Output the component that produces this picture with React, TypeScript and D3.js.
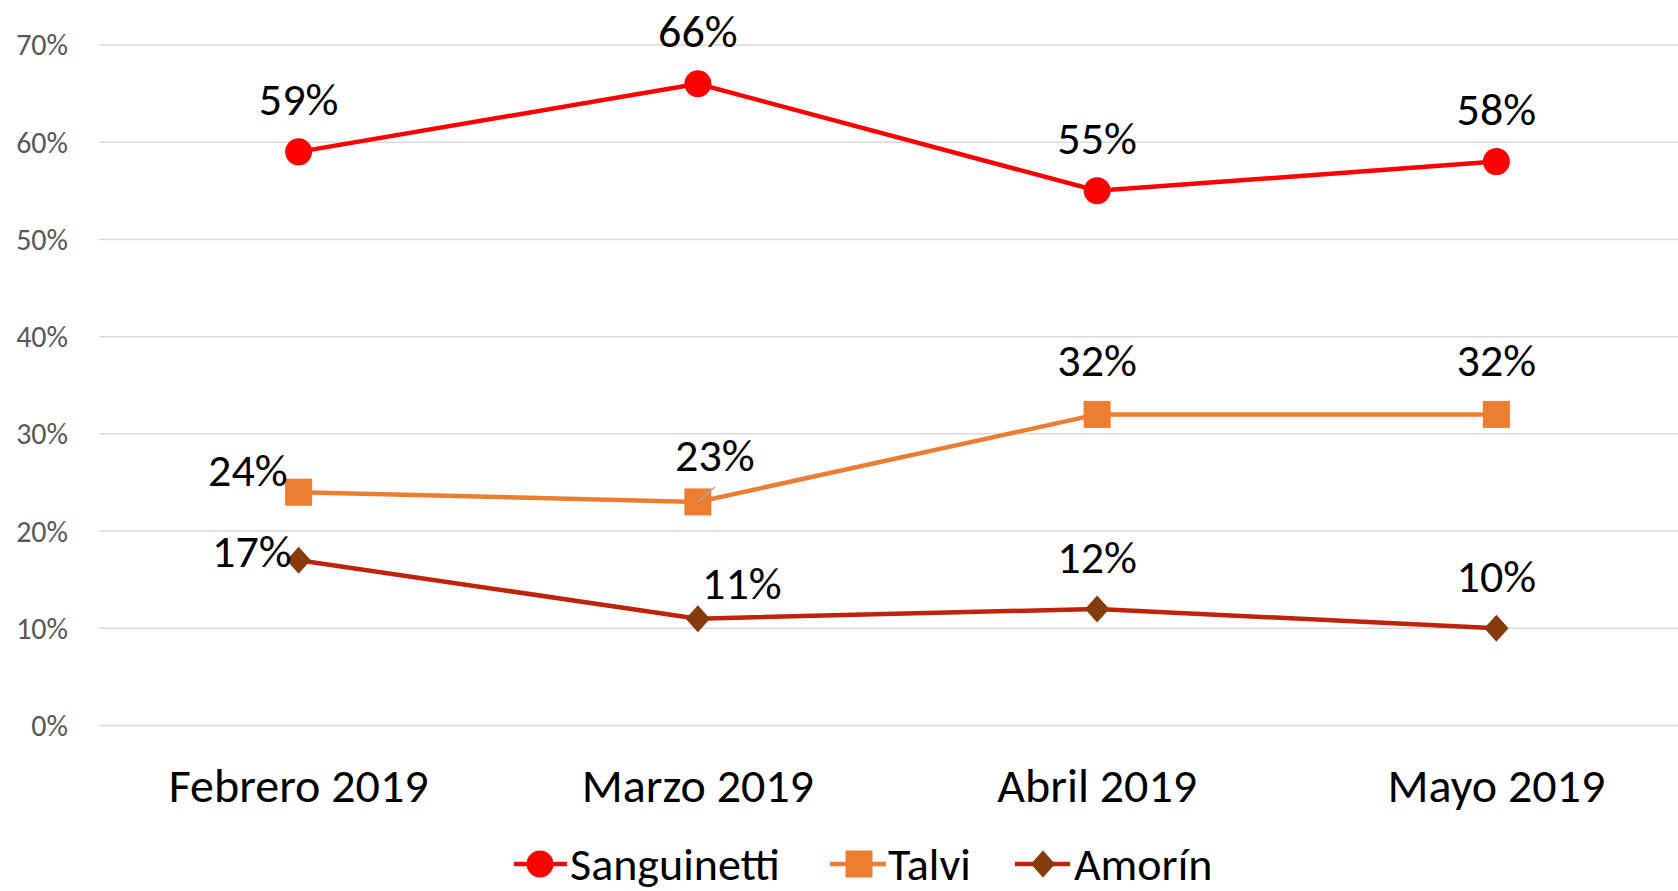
import React, { useEffect } from "react";
import * as d3 from "d3";

const categories = ["Febrero 2019", "Marzo 2019", "Abril 2019", "Mayo 2019"];
const sanguinetti = [59, 66, 55, 58];
const talvi = [24, 23, 32, 32];
const amorin = [17, 11, 12, 10];
const yTicks = [0, 10, 20, 30, 40, 50, 60, 70];
const seriesNames = ["Sanguinetti", "Talvi", "Amorín"];

const W = 1678;
const H = 891;
const FONT = "Carlito, Lato, 'Open Sans', sans-serif";

export default function App() {
  useEffect(() => {
    document.body.style.margin = "0";
  }, []);

  const x = d3.scaleBand<string>().domain(categories).range([99, 1696]);
  const cx = (c: string) => (x(c) ?? 0) + x.bandwidth() / 2;
  const y = d3.scaleLinear().domain([0, 70]).range([725.6, 44.9]);

  const line = d3
    .line<number>()
    .x((_, i) => cx(categories[i]))
    .y((d) => y(d));

  const sColor = "#ff0000";
  const tColor = "#ed7d31";
  const aLine = "#c0220c";
  const aMarker = "#843c0c";

  const sLabels = sanguinetti.map(() => [0, -37, "middle"] as [number, number, string]);
  const tLabels: [number, number, string][] = [
    [-11, -6, "end"],
    [17, -31, "middle"],
    [0, -38, "middle"],
    [0, -38, "middle"],
  ];
  const aLabels: [number, number, string][] = [
    [-7, 7, "end"],
    [44, -20, "middle"],
    [0, -36, "middle"],
    [0, -36, "middle"],
  ];

  const diamond = (px: number, py: number, r: number) =>
    `M${px},${py - r}L${px + r * 0.9},${py}L${px},${py + r}L${px - r * 0.9},${py}Z`;

  const legendY = 864;
  const LBL = 46;

  const renderLabels = (vals: number[], offs: [number, number, string][]) =>
    vals.map((v, i) => (
      <text
        key={i}
        x={cx(categories[i]) + offs[i][0]}
        y={y(v) + offs[i][1]}
        textAnchor={offs[i][2] as any}
        fontFamily={FONT}
        fontSize={LBL}
        fill="#000"
      >
        {v}%
      </text>
    ));

  return (
    <svg width={W} height={H} style={{ position: "absolute", left: 0, top: 0, background: "#fff" }}>
      <rect width={W} height={H} fill="#fff" />
      {yTicks.map((t) => (
        <g key={t}>
          <line x1={99} x2={W} y1={y(t)} y2={y(t)} stroke="#d9d9d9" strokeWidth={1.5} />
          <text
            x={68}
            y={y(t)}
            dy="0.35em"
            textAnchor="end"
            fontFamily={FONT}
            fontSize={30}
            fill="#595959"
          >
            {t}%
          </text>
        </g>
      ))}
      {categories.map((c) => (
        <text
          key={c}
          x={cx(c)}
          y={802}
          textAnchor="middle"
          fontFamily={FONT}
          fontSize={48}
          fill="#000"
        >
          {c}
        </text>
      ))}

      <path d={line(sanguinetti) ?? ""} fill="none" stroke={sColor} strokeWidth={4.5} />
      <path d={line(talvi) ?? ""} fill="none" stroke={tColor} strokeWidth={4.5} />
      <path d={line(amorin) ?? ""} fill="none" stroke={aLine} strokeWidth={4.5} />

      {sanguinetti.map((v, i) => (
        <circle key={i} cx={cx(categories[i])} cy={y(v)} r={13.5} fill={sColor} />
      ))}
      {talvi.map((v, i) => (
        <rect
          key={i}
          x={cx(categories[i]) - 13.5}
          y={y(v) - 13.5}
          width={27}
          height={27}
          fill={tColor}
        />
      ))}
      {amorin.map((v, i) => (
        <path key={i} d={diamond(cx(categories[i]), y(v), 13.5)} fill={aMarker} />
      ))}

      <line
        x1={cx(categories[1])}
        y1={y(talvi[1])}
        x2={cx(categories[1]) + 17}
        y2={y(talvi[1]) - 15}
        stroke="#a6a6a6"
        strokeWidth={1.5}
      />

      {renderLabels(sanguinetti, sLabels)}
      {renderLabels(talvi, tLabels)}
      {renderLabels(amorin, aLabels)}

      <g>
        <line x1={514} x2={567} y1={legendY} y2={legendY} stroke={sColor} strokeWidth={4.5} />
        <circle cx={540} cy={legendY} r={13.5} fill={sColor} />
        <text x={570} y={legendY} dy="0.35em" fontFamily={FONT} fontSize={46} fill="#000">
          {seriesNames[0]}
        </text>
        <line x1={830} x2={886} y1={legendY} y2={legendY} stroke={tColor} strokeWidth={4.5} />
        <rect x={859 - 13.5} y={legendY - 13.5} width={27} height={27} fill={tColor} />
        <text x={888} y={legendY} dy="0.35em" fontFamily={FONT} fontSize={46} fill="#000">
          {seriesNames[1]}
        </text>
        <line x1={1015} x2={1070} y1={legendY} y2={legendY} stroke={aLine} strokeWidth={4.5} />
        <path d={diamond(1043, legendY, 13.5)} fill={aMarker} />
        <text x={1074} y={legendY} dy="0.35em" fontFamily={FONT} fontSize={46} fill="#000">
          {seriesNames[2]}
        </text>
      </g>
    </svg>
  );
}
